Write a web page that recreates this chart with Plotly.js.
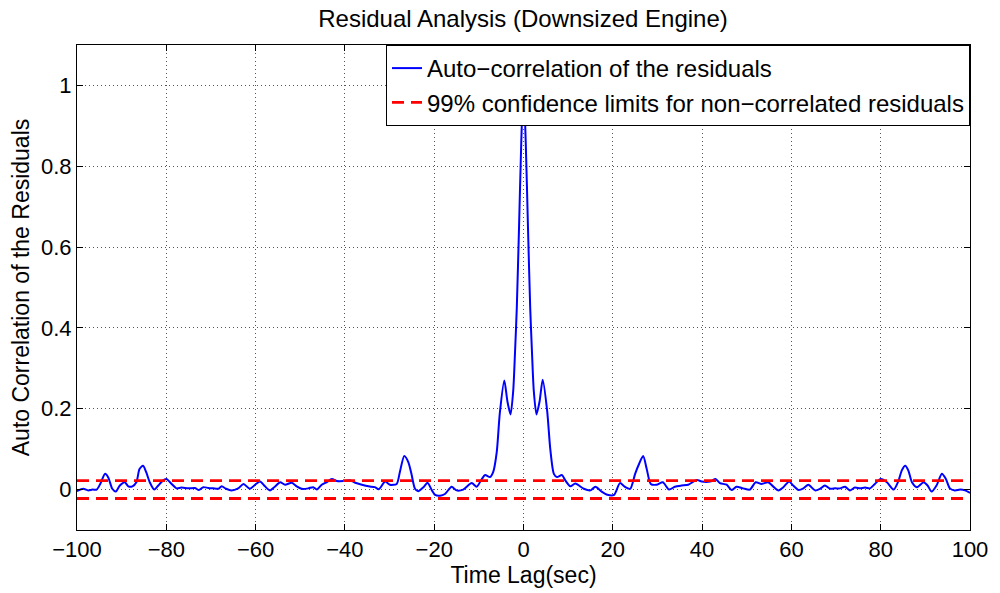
<!DOCTYPE html>
<html>
<head>
<meta charset="utf-8">
<script src="https://cdn.plot.ly/plotly-3.0.1.min.js"></script>
<style>
  html, body { margin: 0; padding: 0; background: #fff; }
  #chart { width: 1000px; height: 593px; }
</style>
</head>
<body>
<div id="chart"></div>
<script>
// Time lag of each sample (seconds)
const lagSec = [
  -100, -98.6, -97.5, -96.5, -95.6, -94.8, -93.7, -93.0, -92.1, -91.3,
  -90.4, -89.3, -88.5, -87.6, -86.7, -86.0, -85.2, -84.5, -83.7, -82.7,
  -81.8, -80.9, -80.0, -78.8, -77.7, -76.6, -75.1, -73.6, -72.7, -71.7,
  -70.6, -69.5, -68.3, -67.6, -66.6, -65.4, -63.9, -62.7, -61.3, -60.1,
  -59.0, -57.9, -56.8, -55.7, -54.5, -53.4, -51.9, -50.8, -49.7, -48.2,
  -47.1, -46.3, -45.2, -44.1, -42.9, -41.8, -40.3, -38.9, -37.7, -36.2,
  -34.7, -33.3, -32.4, -31.0, -29.9, -28.4, -27.7, -26.7, -25.8, -25.1,
  -24.3, -23.6, -22.4, -21.5, -20.5, -19.8, -18.7, -17.6, -16.1, -15.0,
  -13.5, -11.6, -10.5, -9.4, -8.6, -7.5, -6.8, -6.0, -5.3, -4.3,
  -3.6, -2.9, -2.3, -1.9, -1.5, -1.0, -0.5, 0,
  0.5, 1.0, 1.5, 1.9, 2.3, 2.9, 3.6, 4.3, 5.3, 6.0,
  6.8, 7.5, 8.6, 9.4, 10.5, 11.6, 13.5, 15.0, 16.1, 17.5,
  18.8, 20.3, 21.6, 22.7, 23.9, 25.0, 25.9, 26.8, 27.6, 28.5,
  29.8, 31.2, 32.6, 33.9, 35.4, 36.9, 38.8, 39.9, 41.8, 43.0,
  44.0, 45.5, 46.6, 47.7, 49.2, 50.7, 52.0, 53.3, 54.8, 55.9,
  57.1, 58.2, 59.5, 60.4, 61.6, 62.7, 63.8, 65.3, 66.4, 67.5,
  68.7, 69.8, 70.9, 72.0, 73.1, 74.2, 75.4, 76.5, 77.6, 78.7,
  80.0, 81.4, 82.9, 84.0, 84.7, 85.5, 86.2, 87.0, 88.1, 89.6,
  90.5, 91.4, 92.5, 93.7, 94.6, 95.5, 96.6, 97.8, 98.9, 100
];

// Auto-correlation of the residuals at each lag
const acf = [
  -0.004, 0.002, -0.002, 0.000, 0.000, 0.014, 0.039, 0.030, 0.002, -0.005,
  0.010, 0.018, 0.008, 0.008, 0.018, 0.051, 0.059, 0.043, 0.018, 0.000,
  0.010, 0.021, 0.026, 0.014, 0.003, 0.005, 0.003, 0.004, -0.001, 0.006,
  0.004, 0.003, 0.002, 0.008, 0.002, -0.002, 0.003, 0.014, 0.002, 0.012,
  0.020, 0.008, -0.002, 0.007, 0.018, 0.012, 0.017, 0.008, 0.002, 0.003,
  0.006, 0.000, 0.012, 0.018, 0.026, 0.021, 0.021, 0.023, 0.017, 0.012,
  0.008, 0.006, 0.001, 0.020, 0.012, 0.014, 0.043, 0.083, 0.068, 0.039,
  0.002, -0.004, 0.006, 0.017, -0.002, -0.013, -0.015, -0.011, 0.007, -0.002,
  0.000, 0.016, 0.007, 0.025, 0.036, 0.031, 0.043, 0.092, 0.190, 0.270,
  0.218, 0.186, 0.245, 0.340, 0.450, 0.650, 0.860, 1.000,
  0.860, 0.650, 0.450, 0.340, 0.245, 0.186, 0.218, 0.272, 0.195, 0.100,
  0.039, 0.031, 0.036, 0.022, 0.008, 0.015, 0.002, -0.002, 0.007, -0.005,
  -0.013, -0.013, 0.016, 0.007, 0.002, 0.039, 0.064, 0.083, 0.051, 0.014,
  0.012, 0.018, 0.000, 0.007, 0.010, 0.012, 0.024, 0.020, 0.020, 0.026,
  0.016, 0.012, -0.001, 0.007, 0.003, 0.000, 0.018, 0.014, 0.018, 0.008,
  -0.002, 0.006, 0.020, 0.010, -0.001, 0.003, 0.012, -0.002, 0.002, 0.010,
  0.002, 0.003, 0.003, 0.007, -0.002, 0.005, 0.003, 0.005, 0.003, 0.014,
  0.026, 0.018, 0.000, 0.022, 0.047, 0.059, 0.047, 0.018, 0.006, 0.018,
  0.010, -0.005, 0.010, 0.039, 0.026, 0.003, -0.002, 0.000, -0.002, -0.008
];

// 99% confidence band for non-correlated residuals
const confLimit = 0.022;
const lagRange = [-100, 100];

// Axis ticks
const xTicks = [-100, -80, -60, -40, -20, 0, 20, 40, 60, 80, 100];
const yTicks = [0, 0.2, 0.4, 0.6, 0.8, 1];

const FONT = 'Liberation Sans, Arial, Helvetica, sans-serif';

const traces = [
  {
    x: lagSec, y: acf,
    type: 'scatter', mode: 'lines',
    name: 'Auto\u2212correlation of the residuals',
    line: { color: '#0000ff', width: 2, shape: 'spline', smoothing: 0.7 },
    hoverinfo: 'x+y'
  },
  {
    x: lagRange, y: [confLimit, confLimit],
    type: 'scatter', mode: 'lines',
    name: '99% confidence limits for non\u2212correlated residuals',
    line: { color: '#ff0000', width: 2.8, dash: '12px,7px' },
    legendgroup: 'conf'
  },
  {
    x: lagRange, y: [-confLimit, -confLimit],
    type: 'scatter', mode: 'lines',
    showlegend: false,
    line: { color: '#ff0000', width: 2.8, dash: '12px,7px' },
    legendgroup: 'conf'
  }
];

const axisCommon = {
  showline: true, linecolor: '#000', linewidth: 1, mirror: 'ticks',
  ticks: 'inside', ticklen: 6, tickcolor: '#000', tickwidth: 1,
  showgrid: true, gridcolor: '#555', griddash: '1px,3px', gridwidth: 1,
  zeroline: false,
  tickfont: { family: FONT, size: 22, color: '#000' }
};

const layout = {
  width: 1000, height: 593,
  paper_bgcolor: '#fff', plot_bgcolor: '#fff',
  margin: { l: 77, r: 30, t: 45, b: 63 },
  font: { family: FONT, color: '#000' },
  title: {
    text: 'Residual Analysis (Downsized Engine)',
    font: { family: FONT, size: 24, color: '#000' },
    x: 0.523, xanchor: 'center', y: 0.968, yanchor: 'middle'
  },
  xaxis: Object.assign({}, axisCommon, {
    range: lagRange, tickvals: xTicks,
    title: { text: 'Time Lag(sec)', font: { family: FONT, size: 23, color: '#000' }, standoff: 0 }
  }),
  yaxis: Object.assign({}, axisCommon, {
    range: [-0.1, 1.1], tickvals: yTicks,
    title: { text: 'Auto Correlation of the Residuals', font: { family: FONT, size: 23, color: '#000' }, standoff: 4 }
  }),
  legend: {
    x: 1, xanchor: 'right', y: 1, yanchor: 'top',
    bgcolor: '#fff', bordercolor: '#000', borderwidth: 1,
    font: { family: FONT, size: 24, color: '#000' },
    itemwidth: 30, tracegroupgap: 0
  },
  showlegend: true
};

Plotly.newPlot('chart', traces, layout, { displayModeBar: false, staticPlot: true });
</script>
</body>
</html>
